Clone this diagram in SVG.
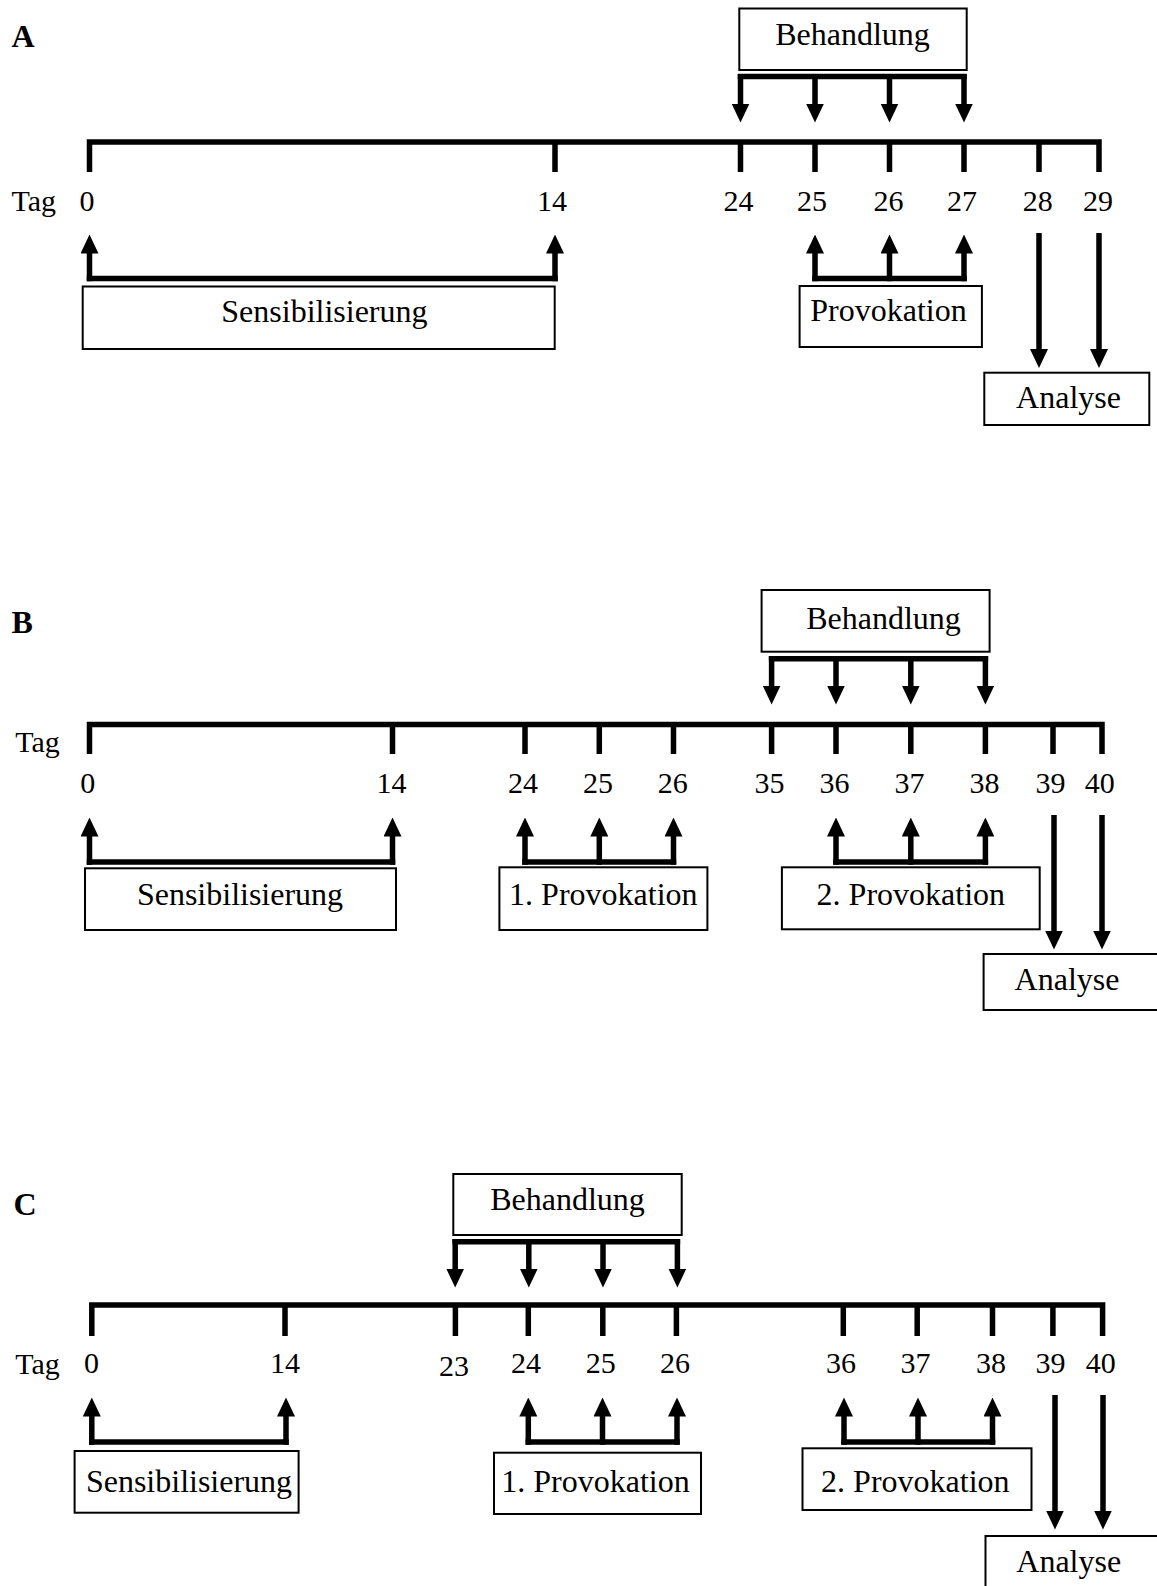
<svg xmlns="http://www.w3.org/2000/svg" width="1157" height="1586" viewBox="0 0 1157 1586">
<defs>
<style>
.t{font-family:"Liberation Serif","Times New Roman",serif;fill:#000}
.lbl{font-size:32px;text-anchor:middle}
.num{font-size:30px;text-anchor:middle}
.tag{font-size:30px}
.pl{font-size:32px;font-weight:bold}
.box{fill:#fff;stroke:#000;stroke-width:2}
.ax{fill:none;stroke:#000;stroke-width:5.5;stroke-linejoin:miter;stroke-linecap:butt}
.ar{stroke:#000;stroke-width:5.5;marker-end:url(#ah)}
.bar{stroke:#000;stroke-width:5.5}
</style>
<marker id="ah" markerUnits="userSpaceOnUse" viewBox="0 0 19 18" markerWidth="19" markerHeight="18" refX="0.5" refY="9" orient="auto">
<path d="M0,0 L19,9 L0,18 z" fill="#000"/>
</marker>
</defs>
<rect width="1157" height="1586" fill="#fff"/>

<!-- Panel A -->
<g id="panelA">
<text class="t pl" x="11.5" y="47">A</text>
<g id="A-axis">
<path class="ax" d="M89.5,172 V142 H1099 V172"/>
<path class="ax" d="M555,142 V172 M740.5,142 V172 M815,142 V172 M889.5,142 V172 M964,142 V172 M1039,142 V172"/>
<text class="t tag" x="11.5" y="210.5">Tag</text>
<text class="t num" x="87" y="210.5">0</text>
<text class="t num" x="552" y="210.5">14</text>
<text class="t num" x="738.5" y="210.5">24</text>
<text class="t num" x="812" y="210.5">25</text>
<text class="t num" x="888.6" y="210.5">26</text>
<text class="t num" x="962" y="210.5">27</text>
<text class="t num" x="1037.8" y="210.5">28</text>
<text class="t num" x="1098" y="210.5">29</text>
</g>
<g id="A-behandlung"><rect class="box" x="739.3" y="8.5" width="227.4" height="61.5"/><text class="t lbl" x="852.5" y="45">Behandlung</text></g>
<g id="A-sensibilisierung"><rect class="box" x="82.7" y="286.5" width="472" height="62.5"/><text class="t lbl" x="324.4" y="321.7">Sensibilisierung</text></g>
<g id="A-provokation"><rect class="box" x="799.6" y="286" width="182.3" height="61"/><text class="t lbl" x="888.5" y="320.7">Provokation</text></g>
<g id="A-analyse"><rect class="box" x="984.3" y="372.7" width="165" height="52.3"/><text class="t lbl" x="1068.5" y="408.3">Analyse</text></g>
</g>

<!-- Panel B -->
<g id="panelB">
<text class="t pl" x="11.5" y="633.3">B</text>
<g id="B-axis">
<path class="ax" d="M89.5,754 V724.5 H1102 V754"/>
<path class="ax" d="M392.5,724.5 V754 M525,724.5 V754 M599.3,724.5 V754 M673.5,724.5 V754 M771.6,724.5 V754 M836,724.5 V754 M910.8,724.5 V754 M985.4,724.5 V754 M1053,724.5 V754"/>
<text class="t tag" x="15.3" y="751.7">Tag</text>
<text class="t num" x="87.7" y="793">0</text>
<text class="t num" x="391.5" y="793">14</text>
<text class="t num" x="523" y="793">24</text>
<text class="t num" x="598" y="793">25</text>
<text class="t num" x="672.8" y="793">26</text>
<text class="t num" x="769.6" y="793">35</text>
<text class="t num" x="834.5" y="793">36</text>
<text class="t num" x="909.4" y="793">37</text>
<text class="t num" x="984.5" y="793">38</text>
<text class="t num" x="1050.6" y="793">39</text>
<text class="t num" x="1099.8" y="793">40</text>
</g>
<g id="B-behandlung"><rect class="box" x="761.6" y="590" width="228" height="61.7"/><text class="t lbl" x="883.5" y="629.3">Behandlung</text></g>
<g id="B-sensibilisierung"><rect class="box" x="85" y="868.3" width="311" height="61.7"/><text class="t lbl" x="240" y="905">Sensibilisierung</text></g>
<g id="B-provokation1"><rect class="box" x="499.4" y="867.3" width="208" height="62.7"/><text class="t lbl" x="603.3" y="905">1. Provokation</text></g>
<g id="B-provokation2"><rect class="box" x="781.9" y="867.3" width="257.8" height="62"/><text class="t lbl" x="910.8" y="905">2. Provokation</text></g>
<g id="B-analyse"><rect class="box" x="983.6" y="954" width="200" height="56"/><text class="t lbl" x="1067" y="990">Analyse</text></g>
</g>

<!-- Panel C -->
<g id="panelC">
<text class="t pl" x="13.4" y="1214.5">C</text>
<g id="C-axis">
<path class="ax" d="M91.8,1336 V1305 H1102.6 V1336"/>
<path class="ax" d="M285,1305 V1336 M455.4,1305 V1336 M528.3,1305 V1336 M602.8,1305 V1336 M676.4,1305 V1336 M843.3,1305 V1336 M917.2,1305 V1336 M992.5,1305 V1336 M1052.9,1305 V1336"/>
<text class="t tag" x="15.3" y="1374">Tag</text>
<text class="t num" x="91.5" y="1373.3">0</text>
<text class="t num" x="285" y="1373.3">14</text>
<text class="t num" x="454" y="1376">23</text>
<text class="t num" x="526" y="1373.3">24</text>
<text class="t num" x="600.8" y="1373.3">25</text>
<text class="t num" x="675" y="1373.3">26</text>
<text class="t num" x="841" y="1373.3">36</text>
<text class="t num" x="915.6" y="1373.3">37</text>
<text class="t num" x="991" y="1373.3">38</text>
<text class="t num" x="1050.6" y="1373.3">39</text>
<text class="t num" x="1100.8" y="1373.3">40</text>
</g>
<g id="C-behandlung"><rect class="box" x="453.3" y="1174" width="228.4" height="61"/><text class="t lbl" x="567.5" y="1210">Behandlung</text></g>
<g id="C-sensibilisierung"><rect class="box" x="74.6" y="1451" width="224" height="61.7"/><text class="t lbl" x="189" y="1491.7">Sensibilisierung</text></g>
<g id="C-provokation1"><rect class="box" x="494" y="1452.7" width="207" height="61.3"/><text class="t lbl" x="595.5" y="1491.7">1. Provokation</text></g>
<g id="C-provokation2"><rect class="box" x="802.5" y="1448.3" width="229" height="61.7"/><text class="t lbl" x="915.3" y="1491.7">2. Provokation</text></g>
<g id="C-analyse"><rect class="box" x="985.5" y="1536" width="200" height="100"/><text class="t lbl" x="1068.7" y="1571.7">Analyse</text></g>
</g>

<!-- Connectors -->
<g id="connectors">
<!-- A -->
<line class="bar" x1="737.75" y1="76.5" x2="966.75" y2="76.5"/>
<line class="ar" x1="740.5" y1="74" x2="740.5" y2="104"/>
<line class="ar" x1="815" y1="74" x2="815" y2="104"/>
<line class="ar" x1="889.5" y1="74" x2="889.5" y2="104"/>
<line class="ar" x1="964" y1="74" x2="964" y2="104"/>
<line class="bar" x1="86.75" y1="278.5" x2="557.75" y2="278.5"/>
<line class="ar" x1="89.5" y1="281.25" x2="89.5" y2="253"/>
<line class="ar" x1="555" y1="281.25" x2="555" y2="253"/>
<line class="bar" x1="812.25" y1="278.5" x2="966.75" y2="278.5"/>
<line class="ar" x1="815" y1="281.25" x2="815" y2="253"/>
<line class="ar" x1="889.5" y1="281.25" x2="889.5" y2="253"/>
<line class="ar" x1="964" y1="281.25" x2="964" y2="253"/>
<line class="ar" x1="1039" y1="233" x2="1039" y2="349.5"/>
<line class="ar" x1="1099" y1="233" x2="1099" y2="349.5"/>
<!-- B -->
<line class="bar" x1="768.85" y1="658.8" x2="988.15" y2="658.8"/>
<line class="ar" x1="771.6" y1="656" x2="771.6" y2="686"/>
<line class="ar" x1="836" y1="656" x2="836" y2="686"/>
<line class="ar" x1="910.8" y1="656" x2="910.8" y2="686"/>
<line class="ar" x1="985.4" y1="656" x2="985.4" y2="686"/>
<line class="bar" x1="86.75" y1="862" x2="395.25" y2="862"/>
<line class="ar" x1="89.5" y1="864.75" x2="89.5" y2="836"/>
<line class="ar" x1="392.5" y1="864.75" x2="392.5" y2="836"/>
<line class="bar" x1="522.25" y1="862" x2="676.25" y2="862"/>
<line class="ar" x1="525" y1="864.75" x2="525" y2="836"/>
<line class="ar" x1="599.3" y1="864.75" x2="599.3" y2="836"/>
<line class="ar" x1="673.5" y1="864.75" x2="673.5" y2="836"/>
<line class="bar" x1="833.25" y1="862" x2="988.15" y2="862"/>
<line class="ar" x1="836" y1="864.75" x2="836" y2="836"/>
<line class="ar" x1="910.8" y1="864.75" x2="910.8" y2="836"/>
<line class="ar" x1="985.4" y1="864.75" x2="985.4" y2="836"/>
<line class="ar" x1="1054" y1="815" x2="1054" y2="931"/>
<line class="ar" x1="1102" y1="815" x2="1102" y2="931"/>
<!-- C -->
<line class="bar" x1="452.45" y1="1241.7" x2="680.15" y2="1241.7"/>
<line class="ar" x1="455.2" y1="1239" x2="455.2" y2="1269"/>
<line class="ar" x1="528.8" y1="1239" x2="528.8" y2="1269"/>
<line class="ar" x1="603" y1="1239" x2="603" y2="1269"/>
<line class="ar" x1="677.4" y1="1239" x2="677.4" y2="1269"/>
<line class="bar" x1="89.05" y1="1442" x2="288.75" y2="1442"/>
<line class="ar" x1="91.8" y1="1444.75" x2="91.8" y2="1416"/>
<line class="ar" x1="286" y1="1444.75" x2="286" y2="1416"/>
<line class="bar" x1="525.55" y1="1442" x2="679.75" y2="1442"/>
<line class="ar" x1="528.3" y1="1444.75" x2="528.3" y2="1416"/>
<line class="ar" x1="602.5" y1="1444.75" x2="602.5" y2="1416"/>
<line class="ar" x1="677" y1="1444.75" x2="677" y2="1416"/>
<line class="bar" x1="841.25" y1="1442" x2="995.25" y2="1442"/>
<line class="ar" x1="844" y1="1444.75" x2="844" y2="1416"/>
<line class="ar" x1="918" y1="1444.75" x2="918" y2="1416"/>
<line class="ar" x1="992.5" y1="1444.75" x2="992.5" y2="1416"/>
<line class="ar" x1="1055" y1="1395" x2="1055" y2="1511"/>
<line class="ar" x1="1103" y1="1395" x2="1103" y2="1511"/>
</g>
</svg>
